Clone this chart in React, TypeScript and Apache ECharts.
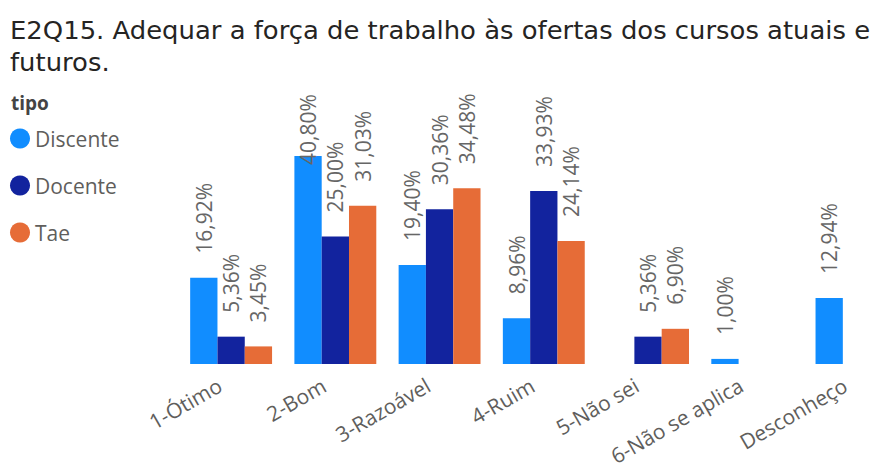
import React, { useEffect, useRef } from "react";
import * as echarts from "echarts";

const categories = ["1-Ótimo", "2-Bom", "3-Razoável", "4-Ruim", "5-Não sei", "6-Não se aplica", "Desconheço"];
const discente: (number | null)[] = [16.92, 40.8, 19.4, 8.96, null, 1.0, 12.94];
const docente: (number | null)[] = [5.36, 25.0, 30.36, 33.93, 5.36, null, null];
const tae: (number | null)[] = [3.45, 31.03, 34.48, 24.14, 6.9, null, null];
const seriesNames = ["Discente", "Docente", "Tae"];
const colors = ["#118DFF", "#12239E", "#E66C37"];
const titleText = "E2Q15. Adequar a força de trabalho às ofertas dos cursos atuais e\nfuturos.";
const legendTitle = "tipo";

const fmt = (v: number) => v.toFixed(2).replace(".", ",") + "%";

export default function App() {
  const ref = useRef<HTMLDivElement>(null);
  useEffect(() => {
    if (!ref.current) return;
    const chart = echarts.init(ref.current, null, { renderer: "svg" });
    const font = "'Open Sans', 'Noto Sans', sans-serif";
    const mkData = (arr: (number | null)[]) =>
      arr.map((v) => {
        if (v === null) return null;
        if (v > 40) return { value: v, label: { distance: -9 } };
        return v;
      });
    const allData = [discente, docente, tae];
    chart.setOption({
      animation: false,
      legend: {
        orient: "vertical",
        left: 10,
        top: 128,
        padding: 0,
        icon: "circle",
        itemWidth: 20,
        itemHeight: 20,
        itemGap: 26,
        data: seriesNames,
        textStyle: { fontFamily: font, fontSize: 21, color: "#605E5C" },
      },
      graphic: [
        {
          type: "text",
          x: 10,
          y: 14,
          scaleX: 1.035,
          style: {
            text: titleText,
            font: "normal 25px 'DejaVu Sans', sans-serif",
            fill: "#252423",
            lineHeight: 32,
          },
        },
        {
          type: "text",
          left: 11,
          top: 93,
          style: { text: legendTitle, font: "bold 19px 'Open Sans', sans-serif", fill: "#444" },
        },
      ],
      grid: { left: 179, right: 1.4, top: 134.5, bottom: 108 },
      xAxis: {
        type: "category",
        data: categories,
        axisLine: { show: false },
        axisTick: { show: false },
        axisLabel: {
          rotate: 30,
          interval: 0,
          margin: 13,
          fontFamily: font,
          fontSize: 21,
          color: "#605E5C",
          padding: [0, 13, 15, 0],
        },
      },
      yAxis: { type: "value", min: 0, max: 45, show: false, splitLine: { show: false } },
      series: seriesNames.map((name, i) => ({
        name,
        type: "bar",
        data: mkData(allData[i]),
        barWidth: 27.3,
        barGap: "0%",
        itemStyle: { color: colors[i] },
        label: {
          show: true,
          position: "top",
          rotate: 90,
          align: "left",
          verticalAlign: "middle",
          distance: 24,
          fontFamily: font,
          fontSize: 21,
          color: "#666666",
          formatter: (p: any) => fmt(p.value),
        },
      })),
    });
    return () => chart.dispose();
  }, []);
  return (
    <div style={{ position: "fixed", left: 0, top: 0, width: 880, height: 472, overflow: "hidden", background: "#fff" }}>
      <div ref={ref} style={{ width: 910, height: 472 }} />
    </div>
  );
}
